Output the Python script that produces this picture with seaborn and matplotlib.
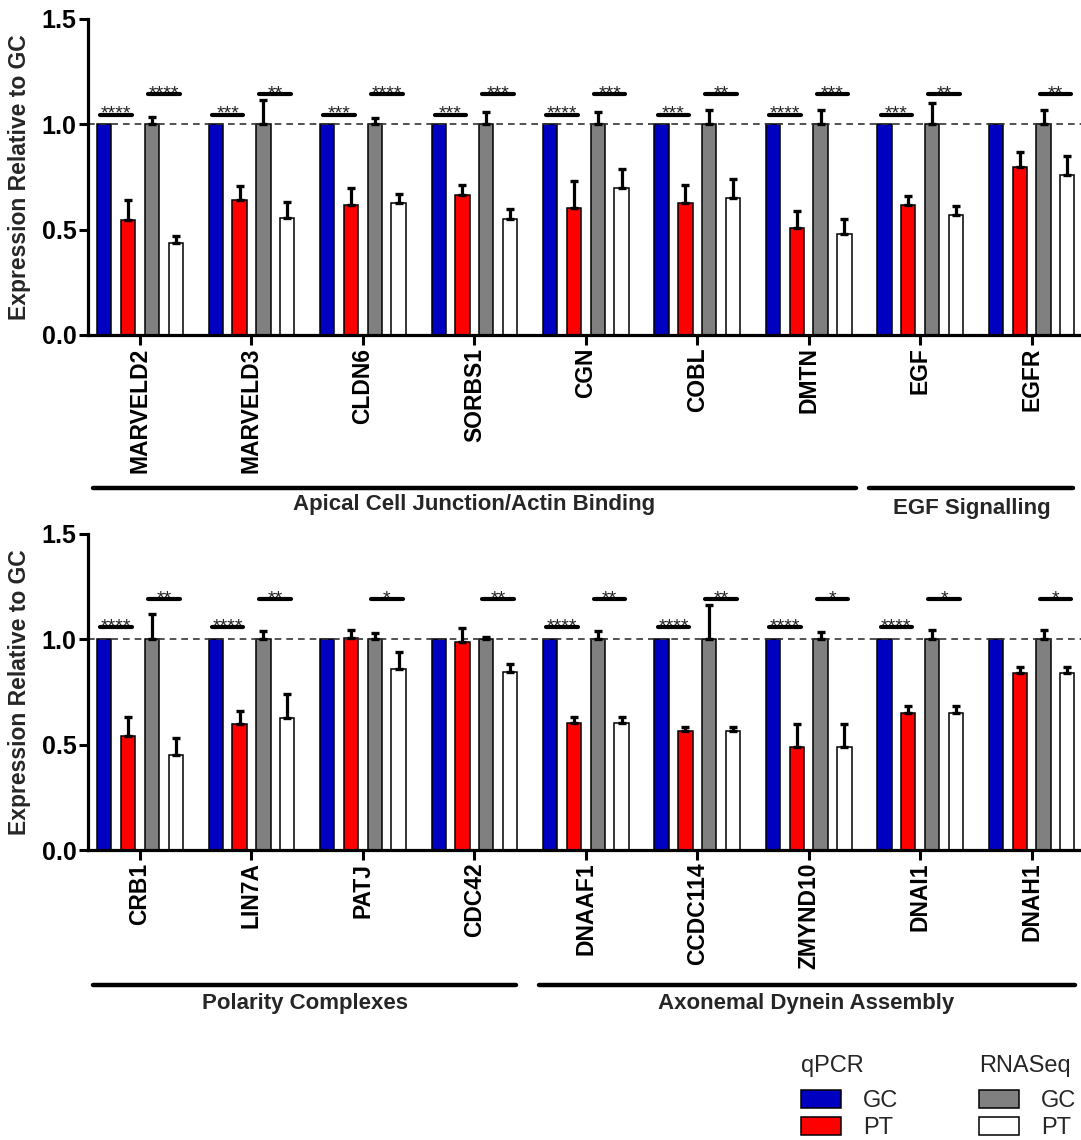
import numpy as np
import pandas as pd
import matplotlib
matplotlib.use("Agg")
import matplotlib.pyplot as plt
from matplotlib.patches import Rectangle
import seaborn as sns

# ---------------- data ----------------
series = ["qPCR GC", "qPCR PT", "RNASeq GC", "RNASeq PT"]
colors = ["#0000C0", "#FF0000", "#808080", "#FFFFFF"]

genes_top = ["MARVELD2", "MARVELD3", "CLDN6", "SORBS1", "CGN", "COBL", "DMTN", "EGF", "EGFR"]
qpcr_gc_top = [1, 1, 1, 1, 1, 1, 1, 1, 1]
qpcr_pt_top = [0.545, 0.641, 0.617, 0.665, 0.603, 0.627, 0.506, 0.614, 0.796]
qpcr_pt_err_top = [0.095, 0.063, 0.081, 0.045, 0.129, 0.085, 0.081, 0.043, 0.072]
rna_gc_top = [1, 1, 1, 1, 1, 1, 1, 1, 1]
rna_gc_err_top = [0.035, 0.113, 0.028, 0.058, 0.058, 0.066, 0.066, 0.098, 0.066]
rna_pt_top = [0.434, 0.554, 0.627, 0.551, 0.696, 0.650, 0.477, 0.569, 0.757]
rna_pt_err_top = [0.035, 0.074, 0.039, 0.047, 0.091, 0.090, 0.071, 0.044, 0.090]
sig_q_top = ["****", "***", "***", "***", "****", "***", "****", "***", ""]
sig_r_top = ["****", "**", "****", "***", "***", "**", "***", "**", "**"]

genes_bot = ["CRB1", "LIN7A", "PATJ", "CDC42", "DNAAF1", "CCDC114", "ZMYND10", "DNAI1", "DNAH1"]
qpcr_gc_bot = [1, 1, 1, 1, 1, 1, 1, 1, 1]
qpcr_pt_bot = [0.54, 0.595, 1.005, 0.985, 0.60, 0.565, 0.49, 0.648, 0.84]
qpcr_pt_err_bot = [0.09, 0.065, 0.04, 0.065, 0.03, 0.02, 0.105, 0.035, 0.028]
rna_gc_bot = [1, 1, 1, 1, 1, 1, 1, 1, 1]
rna_gc_err_bot = [0.12, 0.04, 0.03, 0.01, 0.04, 0.16, 0.035, 0.045, 0.045]
rna_pt_bot = [0.45, 0.625, 0.86, 0.843, 0.60, 0.565, 0.49, 0.648, 0.84]
rna_pt_err_bot = [0.08, 0.115, 0.08, 0.04, 0.03, 0.02, 0.105, 0.035, 0.028]
sig_q_bot = ["****", "****", "", "", "****", "****", "****", "****", ""]
sig_r_bot = ["**", "**", "*", "**", "**", "**", "*", "*", "*"]

# (label, line start, line end, text centre) in category units
groups_top = [("Apical Cell Junction/Actin Binding", -0.42, 6.42, 3.0),
              ("EGF Signalling", 6.545, 8.37, 7.46)]
groups_bot = [("Polarity Complexes", -0.42, 3.378, 1.478),
              ("Axonemal Dynein Assembly", 3.58, 8.387, 5.98)]

# ---------------- style ----------------
sns.set_style("white")
plt.rcParams["font.family"] = ["Liberation Sans", "DejaVu Sans"]

W, H = 1081, 1140
fig = plt.figure(figsize=(W / 100, H / 100), dpi=100)

def fy(px):
    return 1 - px / H

def draw_panel(ax, genes, vals, errs, sig_q, sig_r, y_q, y_r, groups,
               gline_y, gtext_y):
    rows = []
    for s, v, e in zip(series, vals, errs):
        for g, vv, ee in zip(genes, v, e):
            rows.append(dict(gene=g, series=s, value=vv, err=ee))
    df = pd.DataFrame(rows)
    sns.barplot(data=df, x="gene", y="value", hue="series", hue_order=series,
                order=genes, palette=colors, width=0.854, gap=0.40,
                edgecolor="black", linewidth=1.1, errorbar=None, legend=False,
                saturation=1, ax=ax)
    patches = sorted([p for p in ax.patches if p.get_width() > 0],
                     key=lambda p: p.get_x())
    centers = np.array([p.get_x() + p.get_width() / 2 for p in patches]).reshape(len(genes), 4)
    heights = np.array([p.get_height() for p in patches]).reshape(len(genes), 4)
    err_arr = np.array(errs).T
    for gi in range(len(genes)):
        for si in range(4):
            e = err_arr[gi, si]
            if e > 0:
                ax.errorbar(centers[gi, si], heights[gi, si], yerr=[[0], [e]],
                            fmt="none", ecolor="black", elinewidth=2.3,
                            capsize=2.7, capthick=2.4, zorder=3)
    ax.axhline(1.0, color="#333333", lw=1.2, ls=(0, (4, 3)), zorder=1)
    d = 0.035
    for gi in range(len(genes)):
        for (a, b, lab, yy) in [(0, 1, sig_q[gi], y_q), (2, 3, sig_r[gi], y_r)]:
            if lab:
                x0, x1 = centers[gi, a] - d, centers[gi, b] + d
                ax.plot([x0, x1], [yy, yy], color="black", lw=3, solid_capstyle="round",
                        clip_on=False, zorder=4)
                ax.annotate(lab, ((x0 + x1) / 2, yy), xytext=(0, -3.0),
                            textcoords="offset points", ha="center", va="baseline",
                            fontsize=14, color="#222222")
    tr = ax.get_xaxis_transform()
    for (name, x0, x1, xc), ty in zip(groups, gtext_y):
        ax.plot([x0, x1], [gline_y, gline_y], color="black", lw=3.2,
                solid_capstyle="round", transform=tr, clip_on=False)
        ax.text(xc, ty, name, transform=tr, ha="center", va="center",
                fontsize=16, fontweight="bold")

    ax.set_xlim(-0.464, 8.443)
    ax.set_ylim(0, 1.5)
    ax.set_yticks([0, 0.5, 1.0, 1.5])
    ax.set_yticklabels(["0.0", "0.5", "1.0", "1.5"])
    ax.set_xlabel("")
    ax.set_ylabel("Expression Relative to GC", fontsize=16.5, fontweight="bold")
    ax.yaxis.set_label_coords(-0.058, 0.5)
    for sp in ["top", "right"]:
        ax.spines[sp].set_visible(False)
    for sp in ["left", "bottom"]:
        ax.spines[sp].set_linewidth(2.3)
        ax.spines[sp].set_color("black")
    ax.tick_params(axis="x", length=7, width=2.2, direction="out", pad=2,
                   labelsize=16.5, labelrotation=90, bottom=True, colors="black")
    ax.tick_params(axis="y", length=6.5, width=2.2, direction="out", pad=2,
                   labelsize=18, left=True, colors="black")
    for lbl in ax.get_xticklabels() + ax.get_yticklabels():
        lbl.set_fontweight("bold")
    ax.set_facecolor("white")

ax_left = 88.3 / W
ax_top = fig.add_axes([ax_left, fy(335), 1 - ax_left, 316.5 / H])
draw_panel(ax_top, genes_top,
           [qpcr_gc_top, qpcr_pt_top, rna_gc_top, rna_pt_top],
           [[0] * 9, qpcr_pt_err_top, rna_gc_err_top, rna_pt_err_top],
           sig_q_top, sig_r_top, 1.045, 1.14, groups_top, -0.482, [-0.537, -0.547])

ax_bot = fig.add_axes([ax_left, fy(850), 1 - ax_left, 316.5 / H])
draw_panel(ax_bot, genes_bot,
           [qpcr_gc_bot, qpcr_pt_bot, rna_gc_bot, rna_pt_bot],
           [[0] * 9, qpcr_pt_err_bot, rna_gc_err_bot, rna_pt_err_bot],
           sig_q_bot, sig_r_bot, 1.055, 1.19, groups_bot, -0.4265, [-0.485, -0.485])

# ---------------- legend ----------------
def leg_block(x_px, title, cols):
    fig.text(x_px / W, fy(1066), title, ha="left", va="center", fontsize=17)
    for (lab, c, ytop) in zip(["GC", "PT"], cols, [1090, 1117]):
        fig.patches.append(Rectangle((x_px / W, fy(ytop + 18)), 40 / W, 18 / H,
                                     transform=fig.transFigure, facecolor=c,
                                     edgecolor="black", linewidth=1.1))
        fig.text((x_px + 62) / W, fy(ytop + 11), lab, ha="left", va="center", fontsize=17)

leg_block(801, "qPCR", colors[:2])
leg_block(979, "RNASeq", colors[2:])

fig.savefig("out.png", dpi=100, facecolor="white")
